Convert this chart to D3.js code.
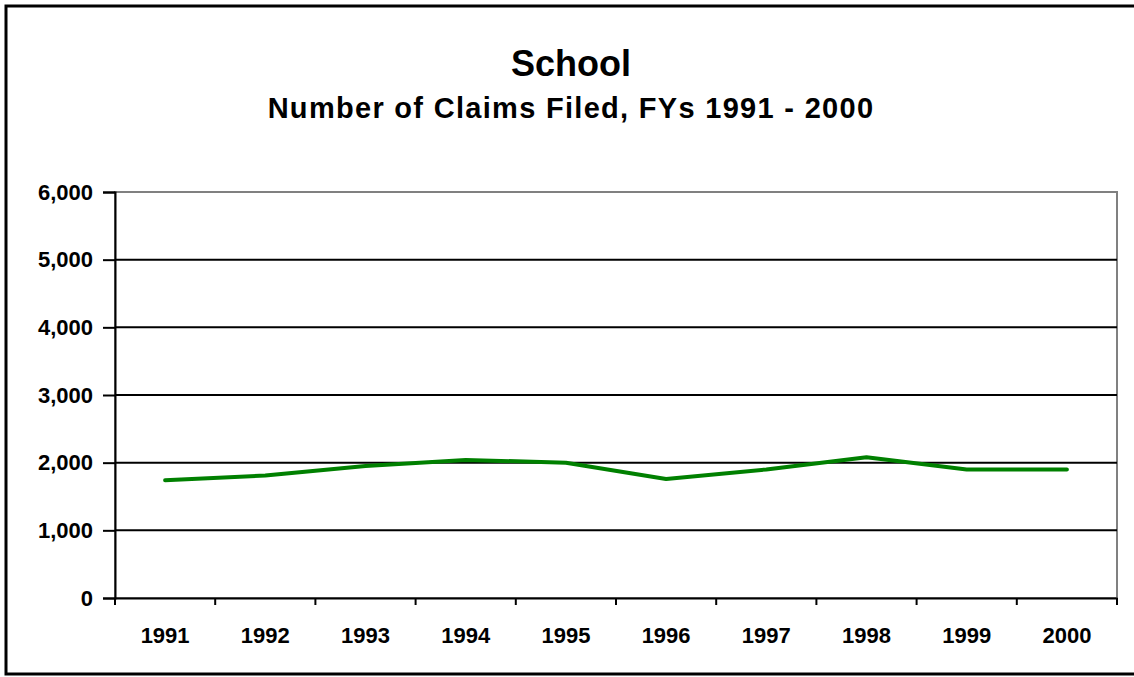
<!DOCTYPE html>
<html>
<head>
<meta charset="utf-8">
<script src="https://cdn.jsdelivr.net/npm/d3@7"></script>
<style>
  body { margin: 0; background: #fff; }
  svg { display: block; font-family: "Liberation Sans", Arial, sans-serif; }
</style>
</head>
<body>
<svg width="1134" height="677"></svg>
<script>
// chart data
var years = ["1991", "1992", "1993", "1994", "1995", "1996", "1997", "1998", "1999", "2000"];
var claims = [1740, 1810, 1950, 2040, 2000, 1760, 1900, 2080, 1900, 1900];
var yTicks = [0, 1000, 2000, 3000, 4000, 5000, 6000];

var svg = d3.select("svg");

// outer frame
svg.append("rect")
    .attr("x", 6).attr("y", 6)
    .attr("width", 1140).attr("height", 668)
    .attr("fill", "#fff")
    .attr("stroke", "#000")
    .attr("stroke-width", 3);

// titles
svg.append("text")
    .attr("x", 571).attr("y", 76)
    .attr("text-anchor", "middle")
    .attr("font-size", 36).attr("font-weight", "bold")
    .text("School");
svg.append("text")
    .attr("x", 571).attr("y", 118)
    .attr("text-anchor", "middle")
    .attr("font-size", 29).attr("font-weight", "bold")
    .attr("letter-spacing", 1.3)
    .text("Number of Claims Filed, FYs 1991 - 2000");

var plotL = 115, plotR = 1117, plotT = 192, plotB = 598;

var x = d3.scaleBand().domain(years).range([plotL, plotR]);
var y = d3.scaleLinear().domain([0, 6000]).range([plotB, plotT]);

// plot area border (gray)
svg.append("rect")
    .attr("x", plotL).attr("y", plotT)
    .attr("width", plotR - plotL).attr("height", plotB - plotT)
    .attr("fill", "none")
    .attr("stroke", "#808080")
    .attr("stroke-width", 2);

// gridlines
svg.append("g")
  .selectAll("line")
  .data(yTicks.filter(function(d){ return d > 0 && d < 6000; }))
  .join("line")
    .attr("x1", plotL).attr("x2", plotR)
    .attr("y1", function(d){ return y(d); })
    .attr("y2", function(d){ return y(d); })
    .attr("stroke", "#000")
    .attr("stroke-width", 2);

// y axis
var yAxis = svg.append("g")
    .attr("transform", "translate(" + plotL + ",0)")
    .call(d3.axisLeft(y).tickValues(yTicks).tickSize(12).tickPadding(10)
        .tickFormat(d3.format(",")));
yAxis.select(".domain").attr("stroke", "#000").attr("stroke-width", 2);
yAxis.selectAll(".tick line").attr("stroke-width", 2);
yAxis.selectAll("text")
    .attr("font-size", 22).attr("font-weight", "bold")
    .attr("font-family", "Liberation Sans, Arial, sans-serif")
    .attr("fill", "#000");

// x axis with ticks at category boundaries
var xAxis = svg.append("g")
    .attr("transform", "translate(0," + plotB + ")")
    .call(d3.axisBottom(x).tickSize(0).tickPadding(29));
xAxis.select(".domain").attr("stroke", "#000").attr("stroke-width", 2);
xAxis.selectAll("text")
    .attr("font-size", 22).attr("font-weight", "bold")
    .attr("font-family", "Liberation Sans, Arial, sans-serif")
    .attr("fill", "#000");

var bounds = years.map(function(d){ return x(d); }).concat([plotR]);
xAxis.selectAll(".bound")
  .data(bounds)
  .join("line")
    .attr("class", "bound")
    .attr("x1", function(d){ return d; })
    .attr("x2", function(d){ return d; })
    .attr("y1", 0).attr("y2", 7)
    .attr("stroke", "#000")
    .attr("stroke-width", 2);

// the series line
var line = d3.line()
    .x(function(d, i){ return x(years[i]) + x.bandwidth() / 2; })
    .y(function(d){ return y(d); });

svg.append("path")
    .datum(claims)
    .attr("fill", "none")
    .attr("stroke", "#008000")
    .attr("stroke-width", 4)
    .attr("stroke-linejoin", "round")
    .attr("stroke-linecap", "round")
    .attr("d", line);
</script>
</body>
</html>
